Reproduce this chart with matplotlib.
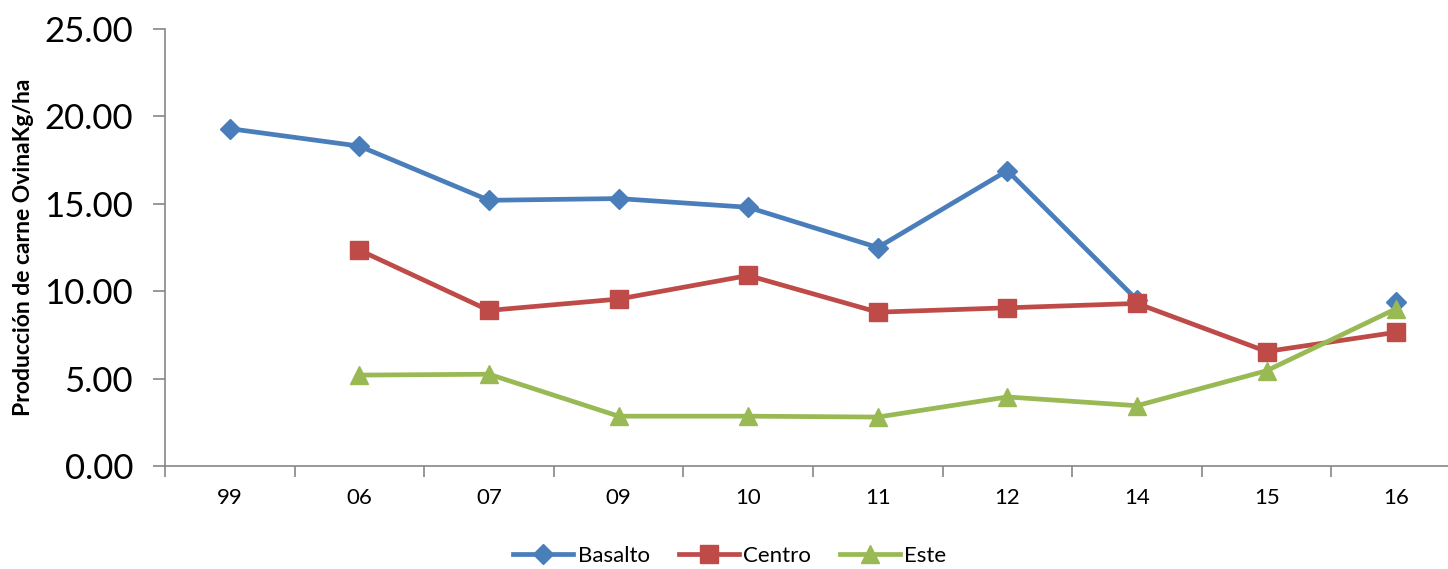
import numpy as np
import matplotlib.pyplot as plt

plt.rcParams['font.family'] = ['Lato', 'DejaVu Sans']

years = ["99", "06", "07", "09", "10", "11", "12", "14", "15", "16"]
basalto = [19.3, 18.3, 15.2, 15.3, 14.8, 12.5, 16.9, 9.5, np.nan, 9.4]
centro = [np.nan, 12.35, 8.9, 9.55, 10.9, 8.8, 9.05, 9.3, 6.55, 7.65]
este = [np.nan, 5.2, 5.25, 2.85, 2.85, 2.8, 3.95, 3.45, 5.45, 9.0]

axis_grey = "#868686"

fig = plt.figure(figsize=(14.48, 5.69), dpi=100)
ax = fig.add_axes([165 / 1448, 1 - 466 / 569, 1296 / 1448, 437 / 569])

x = np.arange(len(years))
ax.plot(x, basalto, color="#4A7EBB", lw=3.4, marker="D", ms=10.5, label="Basalto")
ax.plot(x, centro, color="#BE4B48", lw=3.4, marker="s", ms=12.5, label="Centro")
ax.plot(x, este, color="#98B954", lw=3.4, marker="^", ms=13.5, label="Este")

ax.set_xlim(-0.5, len(years) - 0.5)
ax.set_ylim(0, 25)
ax.set_yticks(np.arange(0, 26, 5))
ax.set_yticklabels([f"{v:.2f}" for v in np.arange(0, 26, 5)], fontsize=25)
ax.set_xticks(x)
ax.set_xticklabels(years, fontsize=16)
ax.set_xticks(np.arange(-0.5, len(years), 1), minor=True)
ax.tick_params(axis="x", which="major", length=0, pad=16)
ax.tick_params(axis="x", which="minor", length=8, color=axis_grey, width=1.2)
ax.tick_params(axis="y", length=9, color=axis_grey, width=1.2, pad=14)

for side in ["top", "right"]:
    ax.spines[side].set_visible(False)
for side in ["left", "bottom"]:
    ax.spines[side].set_color(axis_grey)
    ax.spines[side].set_linewidth(1.2)

ax.set_ylabel("Producción de carne OvinaKg/ha", fontsize=16.5, fontweight="bold")
ax.yaxis.set_label_coords(-0.101, 0.5)

fig.legend(loc="center", bbox_to_anchor=(730 / 1448, 1 - 556 / 569), ncol=3,
           frameon=False, fontsize=16, handlelength=2.7, columnspacing=1.3,
           handletextpad=0.2)

fig.savefig("out.png", dpi=100)
